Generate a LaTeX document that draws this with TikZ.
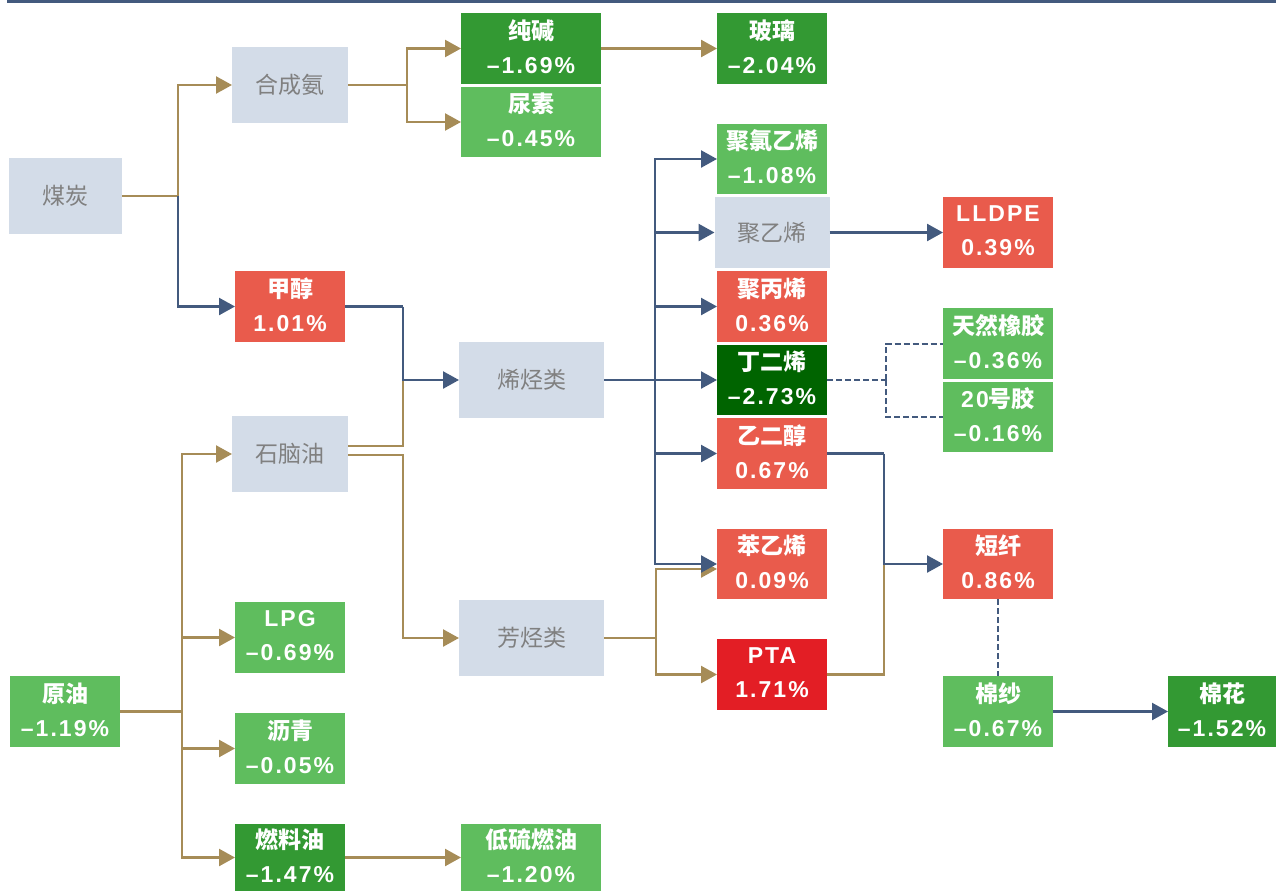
\documentclass[tikz,border=0pt]{standalone}
\usepackage{fontspec}
\setmainfont{Noto Sans CJK SC}
\newfontfamily\numf[LetterSpace=9]{Liberation Sans}
\usetikzlibrary{arrows.meta,calc}
\definecolor{gold}{HTML}{A68C57}
\definecolor{navy}{HTML}{435A7E}
\definecolor{graybox}{HTML}{D3DCE8}
\definecolor{grtext}{HTML}{808080}
\definecolor{dkg}{HTML}{339933}
\definecolor{ltg}{HTML}{5FBD5E}
\definecolor{vdg}{HTML}{006400}
\definecolor{sal}{HTML}{E95B4C}
\definecolor{redb}{HTML}{E31E25}
\begin{document}
\begin{tikzpicture}[x=1pt,y=-1pt,
 sz/.style 2 args={minimum width=#1pt,minimum height=#2pt},
 base/.style={inner sep=0pt, outer sep=0pt, align=center},
 gbox/.style={base, fill=graybox, text=grtext, font=\fontsize{23}{28}\selectfont},
 cbox/.style={base, fill=#1, text=white, text depth=4pt, font=\bfseries\fontsize{23}{34}\selectfont},
 gl/.style={draw=gold, line width=2.4pt},
 bl/.style={draw=navy, line width=2.4pt},
 arr/.style={-{Triangle[length=16pt,width=17pt]}},
 dsh/.style={draw=navy, line width=2pt, dash pattern=on 6pt off 3pt}]
\useasboundingbox (0,0) rectangle (1276,891);
\fill[navy] (7,0) rectangle (1276,3);

% nodes
\node[gbox, sz={113}{76}] (mt) at (65.5,196) {煤炭};
\node[gbox, sz={116}{76}] (hcq) at (290,85) {合成氨};
\node[cbox=dkg, sz={140}{71}] (cj) at (531,48.5) {纯碱\\{\numf –1.69\%}};
\node[cbox=ltg, sz={140}{70}] (ns) at (531,122) {尿素\\{\numf –0.45\%}};
\node[cbox=dkg, sz={110}{71}] (bl) at (772,48.5) {玻璃\\{\numf –2.04\%}};
\node[cbox=sal, sz={110}{71}] (jc) at (290,306.5) {甲醇\\{\numf 1.01\%}};
\node[gbox, sz={145}{76}] (xtl) at (531.5,380) {烯烃类};
\node[gbox, sz={116}{76}] (snf) at (290,454) {石脑油};
\node[gbox, sz={145}{76}] (ftl) at (531.5,638) {芳烃类};
\node[cbox=ltg, sz={110}{71}] (yy) at (65,711.5) {原油\\{\numf –1.19\%}};
\node[cbox=ltg, sz={110}{71}] (lpg) at (290,637.5) {{\numf LPG}\\{\numf –0.69\%}};
\node[cbox=ltg, sz={110}{71}] (lq) at (290,748.5) {沥青\\{\numf –0.05\%}};
\node[cbox=dkg, sz={110}{67}] (rly) at (290,857.5) {燃料油\\{\numf –1.47\%}};
\node[cbox=ltg, sz={140}{67}] (dlry) at (531,857.5) {低硫燃油\\{\numf –1.20\%}};
\node[cbox=ltg, sz={110}{70}] (plye) at (772,159) {聚氯乙烯\\{\numf –1.08\%}};
\node[gbox, sz={115}{71}] (pe) at (772,232.5) {聚乙烯};
\node[cbox=sal, sz={110}{71}] (lldpe) at (998,232.5) {{\numf LLDPE}\\{\numf 0.39\%}};
\node[cbox=sal, sz={110}{71}] (pp) at (772,306.5) {聚丙烯\\{\numf 0.36\%}};
\node[cbox=vdg, sz={110}{70}] (bd) at (772,380) {丁二烯\\{\numf –2.73\%}};
\node[cbox=ltg, sz={110}{71}] (trxj) at (998,343.5) {天然橡胶\\{\numf –0.36\%}};
\node[cbox=ltg, sz={110}{70}] (j20) at (998,417) {{\numf 20}号胶\\{\numf –0.16\%}};
\node[cbox=sal, sz={110}{71}] (eg) at (772,453.5) {乙二醇\\{\numf 0.67\%}};
\node[cbox=sal, sz={110}{70}] (sm) at (772,564) {苯乙烯\\{\numf 0.09\%}};
\node[cbox=sal, sz={110}{70}] (dx) at (998,564) {短纤\\{\numf 0.86\%}};
\node[cbox=redb, sz={110}{71}] (pta) at (772,674.5) {{\numf PTA}\\{\numf 1.71\%}};
\node[cbox=ltg, sz={110}{71}] (ms) at (998,711.5) {棉纱\\{\numf –0.67\%}};
\node[cbox=dkg, sz={108}{71}] (mh) at (1222,711.5) {棉花\\{\numf –1.52\%}};

% junctions
\path (mt.east) ++(56,0) coordinate (j1);
\path (hcq.east) ++(59,0) coordinate (j2);
\path (jc.east) ++(58,0) coordinate (j3);
\path (yy.east) ++(62,0) coordinate (j4);
\path (xtl.east) ++(51,0) coordinate (j5);
\path (ftl.east) ++(52,0) coordinate (j6);
\path (bd.east) ++(59,0) coordinate (j7);
\path (eg.east) ++(57,0) coordinate (j8);

% coal
\draw[gl] (mt.east) -- (j1);
\draw[gl,arr] (j1) |- (hcq.west);
\draw[bl,arr] (j1) |- (jc.west);
% ammonia
\draw[gl] (hcq.east) -- (j2);
\draw[gl,arr] (j2) |- (cj.west);
\draw[gl,arr] (j2) |- (ns.west);
\draw[gl,arr] (cj.east) -- (bl.west);
% naphtha
\draw[gl] ($(snf.east)+(0,-8)$) -| (j3 |- xtl.west);
\draw[gl,arr] ($(snf.east)+(0,1)$) -- ++(55,0) |- (ftl.west);
% methanol
\draw[bl] (jc.east) -- (j3);
\draw[bl,arr] (j3) |- (xtl.west);
% crude
\draw[gl] (yy.east) -- (j4);
\draw[gl,arr] (j4) |- (snf.west);
\draw[gl,arr] (j4) |- (lpg.west);
\draw[gl,arr] (j4) |- (lq.west);
\draw[gl,arr] (j4) |- (rly.west);
\draw[gl,arr] (rly.east) -- (dlry.west);
% aromatics
\draw[gl] (ftl.east) -- (j6);
\draw[gl,arr] (j6) |- ($(sm.west)+(0,5)$);
\draw[gl,arr] (j6) |- (pta.west);
% olefins
\draw[bl] (xtl.east) -- (j5);
\draw[bl,arr] (j5) |- (plye.west);
\draw[bl,arr] (j5) |- (pe.west);
\draw[bl,arr] (j5) |- (pp.west);
\draw[bl,arr] (j5) |- (bd.west);
\draw[bl,arr] (j5) |- (eg.west);
\draw[bl,arr] (j5) |- (sm.west);
\draw[bl,arr] (pe.east) -- (lldpe.west);
% butadiene
\draw[dsh] (bd.east) -- (j7);
\draw[dsh] (j7) |- (trxj.west);
\draw[dsh] (j7) |- (j20.west);
% fibre
\draw[gl] (pta.east) -| (j8 |- dx.west);
\draw[bl] (eg.east) -- (j8);
\draw[bl,arr] (j8) |- (dx.west);
\draw[dsh] (dx.south) -- (ms.north);
\draw[bl,arr] (ms.east) -- (mh.west);
\end{tikzpicture}
\end{document}
